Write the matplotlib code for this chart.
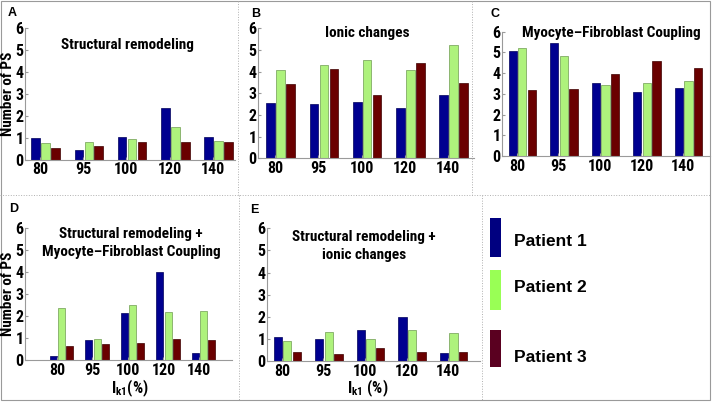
import matplotlib
matplotlib.use('Agg')
import matplotlib.pyplot as plt
from matplotlib.patches import Rectangle
from matplotlib.lines import Line2D
import numpy as np

plt.rcParams['font.family'] = ['Roboto Condensed', 'DejaVu Sans']
plt.rcParams['mathtext.fontset'] = 'custom'
plt.rcParams['mathtext.bf'] = 'Roboto Condensed:bold'
plt.rcParams['mathtext.rm'] = 'Roboto Condensed:bold'

W, H = 713, 403

# Data
ik1_labels = ['80', '95', '100', '120', '140']
patients = ['Patient 1', 'Patient 2', 'Patient 3']

a_p1 = [1.00, 0.45, 1.03, 2.34, 1.05]
a_p2 = [0.74, 0.82, 0.95, 1.48, 0.83]
a_p3 = [0.51, 0.62, 0.80, 0.78, 0.82]

b_p1 = [2.55, 2.52, 2.58, 2.33, 2.91]
b_p2 = [4.07, 4.30, 4.56, 4.08, 5.21]
b_p3 = [3.42, 4.14, 2.91, 4.39, 3.49]

c_p1 = [5.08, 5.47, 3.53, 3.11, 3.27]
c_p2 = [5.20, 4.83, 3.45, 3.52, 3.61]
c_p3 = [3.18, 3.21, 3.95, 4.57, 4.27]

d_p1 = [0.17, 0.91, 2.16, 4.00, 0.32]
d_p2 = [2.39, 0.96, 2.50, 2.20, 2.22]
d_p3 = [0.64, 0.73, 0.79, 0.94, 0.93]

e_p1 = [1.10, 0.98, 1.38, 1.97, 0.36]
e_p2 = [0.89, 1.32, 0.98, 1.40, 1.28]
e_p3 = [0.39, 0.33, 0.57, 0.39, 0.42]

C_BLUE = '#000090'
C_GREEN = '#aef27c'
C_RED = '#6a0000'
EDGES = ['#00005a', '#6f9c52', '#3e0000']
C_AX = '#9a9a9a'

fig = plt.figure(figsize=(W / 100, H / 100), dpi=100)


def fx(x):
    return x / W


def fy(y):
    return 1 - y / H


def panel(x0, x1, y6, y0, xlim, data, title, title_xy, letter, letter_xy,
          ylabel=False, xlabel=None):
    ax = fig.add_axes([fx(x0), fy(y0), (x1 - x0) / W, (y0 - y6) / H])
    pos = np.arange(1, 6)
    offs = [-0.10, 0.13, 0.36]
    for vals, off, col, ec in zip(data, offs, [C_BLUE, C_GREEN, C_RED], EDGES):
        ax.bar(pos + off, vals, width=0.2, color=col, edgecolor=ec, linewidth=0.5)
    ax.set_xlim(*xlim)
    ax.set_ylim(0, 6)
    ax.set_xticks(pos)
    ax.set_xticklabels(ik1_labels, fontsize=11.5, fontweight='bold')
    ax.set_yticks(range(7))
    ax.set_yticklabels([str(i) for i in range(7)], fontsize=11.5, fontweight='bold')
    ax.tick_params(direction='in', length=2, color=C_AX, pad=2)
    ax.tick_params(axis='y', pad=1)
    for s in ['top', 'right']:
        ax.spines[s].set_visible(False)
    for s in ['left', 'bottom']:
        ax.spines[s].set_color(C_AX)
        ax.spines[s].set_linewidth(0.8)
    ax.patch.set_alpha(0)
    fig.text(fx(title_xy[0]), fy(title_xy[1]), title, ha='center', va='center',
             fontsize=11, fontweight='bold', linespacing=1.3)
    fig.text(fx(letter_xy[0]), fy(letter_xy[1]), letter, ha='left', va='center',
             fontsize=9, fontweight='bold', family=['Liberation Sans', 'DejaVu Sans'])
    if ylabel:
        fig.text(fx(8.5), fy((y6 + y0) / 2), 'Number of PS', rotation=90,
                 ha='center', va='center', fontsize=11, fontweight='bold')
    if xlabel is not None:
        fig.text(fx(xlabel[0]), fy(388), xlabel[1], ha='center', va='center',
                 fontsize=11.5, fontweight='bold')
    return ax


panel(25, 235, 28.3, 159.5, (0.653, 5.51), [a_p1, a_p2, a_p3],
      'Structural remodeling', (127, 45), 'A', (8, 13), ylabel=True)
panel(258, 474, 28.3, 158.3, (0.607, 5.6), [b_p1, b_p2, b_p3],
      'Ionic changes', (367, 33), 'B', (251, 14))
panel(502, 710, 31.7, 156.0, (0.64, 5.65), [c_p1, c_p2, c_p3],
      'Myocyte\u2013Fibroblast Coupling', (611, 33), 'C', (491, 14))
panel(25, 232, 228.3, 360.0, (0.1, 5.93), [d_p1, d_p2, d_p3],
      'Structural remodeling +\nMyocyte\u2013Fibroblast Coupling', (131, 243), 'D', (9, 209),
      ylabel=True, xlabel=(130, r'I$_{\mathbf{k1}}$(%)'))
panel(267, 480, 228.3, 361.0, (0.64, 5.77), [e_p1, e_p2, e_p3],
      'Structural remodeling +\nionic changes', (364, 246), 'E', (250, 210),
      xlabel=(368, r'I$_{\mathbf{k1}}$ (%)'))

# legend panel
leg_patches = [(218, 257), (270, 310), (330, 367)]
leg_text_y = [242, 288, 357]
for (t, b), ty, name, col in zip(leg_patches, leg_text_y, patients,
                                   ['#000080', '#99ff55', '#5a0020']):
    fig.patches.append(Rectangle((fx(490), fy(b)), 11 / W, (b - t) / H,
                                 transform=fig.transFigure, facecolor=col,
                                 edgecolor='none'))
    fig.text(fx(514), fy(ty), name, ha='left', va='center', fontsize=12.5,
             fontweight='bold', family=['Liberation Sans', 'DejaVu Sans'])

# panel frame and dividers
fig.patches.append(Rectangle((fx(1), fy(400)), 709 / W, 399 / H,
                             transform=fig.transFigure, facecolor='none',
                             edgecolor=C_AX, linewidth=0.8))
for xs, ys in [((0, 710), (195, 195)), ((238, 238), (1, 195)),
               ((472, 472), (1, 195)), ((239, 239), (195, 400)),
               ((482, 482), (195, 400))]:
    fig.lines.append(Line2D([fx(v) for v in xs], [fy(v) for v in ys],
                            transform=fig.transFigure, color='#b0b0b0',
                            linewidth=0.7, linestyle=':'))

fig.savefig('out.png', dpi=100, facecolor='white')
